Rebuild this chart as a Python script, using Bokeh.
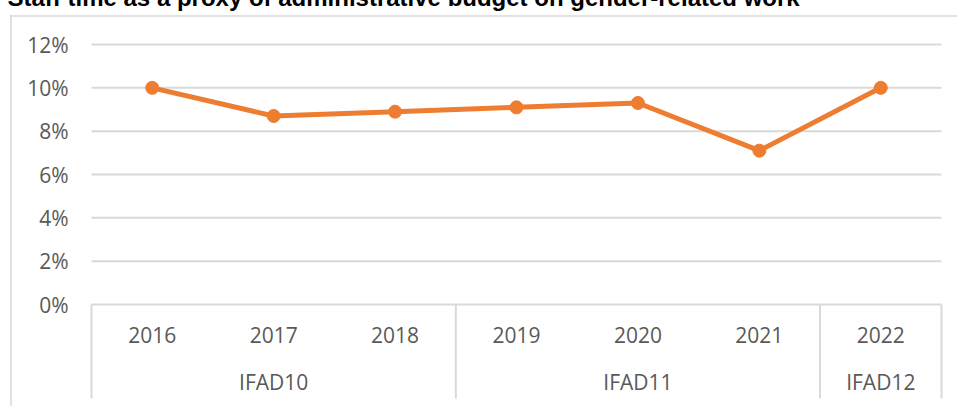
from bokeh.plotting import figure
from bokeh.models import Range1d, Span
from bokeh.core.properties import value
from bokeh.embed import file_html
from bokeh.resources import INLINE

title = "Staff time as a proxy of administrative budget on gender-related work"
years = ["2016", "2017", "2018", "2019", "2020", "2021", "2022"]
periods = ["IFAD10", "IFAD10", "IFAD10", "IFAD11", "IFAD11", "IFAD11", "IFAD12"]
values = [0.100, 0.087, 0.089, 0.091, 0.093, 0.071, 0.100]
y_ticks = [0.0, 0.02, 0.04, 0.06, 0.08, 0.10, 0.12]

ORANGE = "#ED7D31"
GRID = "#D9D9D9"
LABEL = "#595959"
FONT = "Open Sans"

# ---- layout (screen pixels) -> data helpers
W, H = 957, 406
SHIFT = 24                      # canvas starts above the window (title is cropped)
PLOT_L, PLOT_R = 91, 941        # plot-area edges
Y_TOP, Y_ZERO = 44, 304         # pixel rows of the top tick and of 0%
n = len(years)
cw = (PLOT_R - PLOT_L) / n
ppu = (Y_ZERO - Y_TOP) / y_ticks[-1]


def dx(sx):
    return (sx - PLOT_L) / cw


def dy(sy):
    return (Y_ZERO - sy) / ppu


FRAME_L, FRAME_T = 9, 14

p = figure(width=W, height=H + SHIFT, output_backend="svg", toolbar_location=None,
           x_axis_location=None, y_axis_location=None,
           x_range=Range1d(dx(FRAME_L), dx(W)), y_range=Range1d(dy(H), dy(FRAME_T)),
           min_border_left=FRAME_L, min_border_right=0,
           min_border_top=FRAME_T + SHIFT, min_border_bottom=0)
p.styles = {"margin-top": f"-{SHIFT}px"}
p.outline_line_color = None
p.background_fill_color = "white"
p.border_fill_color = "white"
p.grid.visible = False

p.title.text = title
p.title.text_font = "Liberation Sans"
p.title.text_font_style = "bold"
p.title.text_font_size = "24px"
p.title.text_color = "black"
p.title.align = "left"
p.title.standoff = 7
p.title.offset = -2

# chart-area border (left and top edges)
p.add_layout(Span(location=dx(10.5), dimension="height", line_color=GRID, line_width=1.5))
p.add_layout(Span(location=dy(15.5), dimension="width", line_color=GRID, line_width=1.5))

# horizontal gridlines over the plot area
p.segment(x0=0, x1=n, y0=y_ticks, y1=y_ticks, line_color=GRID, line_width=2)

# y tick labels
p.text(x=dx(68), y=y_ticks, text=[f"{round(t * 100)}%" for t in y_ticks],
       text_font=value(FONT), text_font_size="21px", text_color=LABEL,
       text_align="right", text_baseline="middle")

# category axis: separators, year labels, period labels
bounds = [0] + [i for i in range(1, n) if periods[i] != periods[i - 1]] + [n]
p.segment(x0=bounds, x1=bounds, y0=0, y1=dy(398), line_color=GRID, line_width=2)

xs = [i + 0.5 for i in range(n)]
p.text(x=xs, y=dy(334), text=years, text_font=value(FONT), text_font_size="21px",
       text_color=LABEL, text_align="center", text_baseline="middle")

groups = []
for g in periods:
    if g not in groups:
        groups.append(g)
gx = [sum(x for x, q in zip(xs, periods) if q == g) / periods.count(g) for g in groups]
p.text(x=gx, y=dy(381), text=groups, text_font=value(FONT), text_font_size="21px",
       text_color=LABEL, text_align="center", text_baseline="middle")

# data series
p.line(xs, values, line_color=ORANGE, line_width=5)
p.scatter(xs, values, size=13, fill_color=ORANGE, line_color=ORANGE)

open("out.html", "w").write(file_html(p, INLINE))
